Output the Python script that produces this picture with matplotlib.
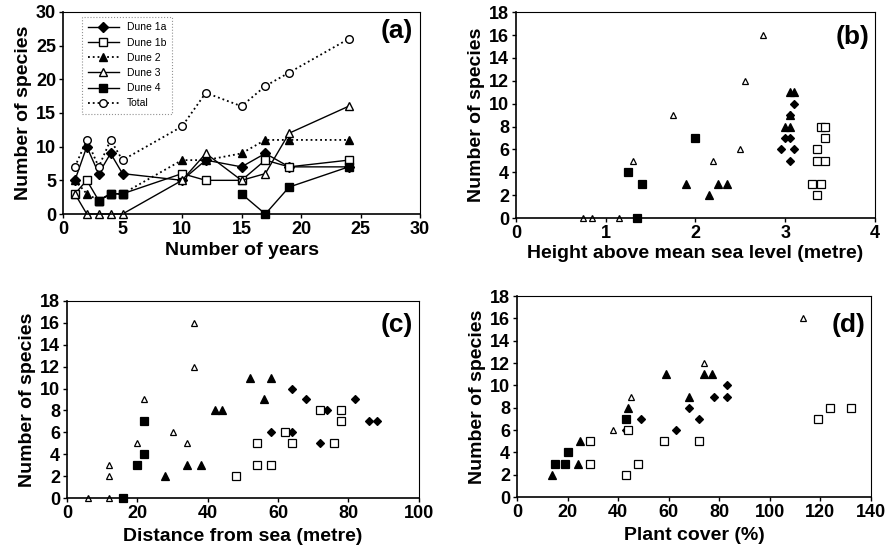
import matplotlib.pyplot as plt
import numpy as np

plt.rcParams['font.family'] = ['Liberation Sans', 'DejaVu Sans']
plt.rcParams['font.weight'] = 'bold'

# (a) species vs years
years = [1, 2, 3, 4, 5, 10, 12, 15, 17, 19, 24]
nan = np.nan
dune1a = [5, 10, 6, 9, 6, 5, 8, 7, 9, 7, 7]
dune1b = [3, 5, 2, 3, 3, 6, 5, 5, 8, 7, 8]
dune2 = [5, 3, 2, 3, 3, 8, 8, 9, 11, 11, 11]
dune3 = [3, 0, 0, 0, 0, 5, 9, 5, 6, 12, 16]
dune4 = [nan, nan, 2, 3, 3, nan, nan, 3, 0, 4, 7]
total = [7, 11, 7, 11, 8, 13, 18, 16, 19, 21, 26]

# (b) height above sea level
h_d1a = [2.95, 3.0, 3.05, 3.05, 3.1, 3.1, 3.05]
n_h_d1a = [6, 7, 7, 9, 10, 6, 5]
h_d1b = [3.3, 3.35, 3.4, 3.35, 3.35, 3.45, 3.45, 3.4, 3.45]
n_h_d1b = [3, 2, 3, 5, 6, 5, 7, 8, 8]
h_d2 = [1.9, 2.15, 2.25, 2.35, 3.0, 3.05, 3.05, 3.1, 3.05]
n_h_d2 = [3, 2, 3, 3, 8, 8, 11, 11, 9]
h_d3 = [0.75, 0.85, 1.15, 1.3, 1.75, 2.2, 2.5, 2.55, 2.75]
n_h_d3 = [0, 0, 0, 5, 9, 5, 6, 12, 16]
h_d4 = [1.25, 1.4, 1.35, 2.0]
n_h_d4 = [4, 3, 0, 7]

# (c) distance from sea
d_d1a = [58, 64, 64, 68, 72, 74, 82, 86, 88]
n_d_d1a = [6, 6, 10, 9, 5, 8, 9, 7, 7]
d_d1b = [48, 54, 54, 58, 62, 64, 72, 76, 78, 78]
n_d_d1b = [2, 3, 5, 3, 6, 5, 8, 5, 8, 7]
d_d2 = [28, 34, 38, 42, 44, 52, 56, 58]
n_d_d2 = [2, 3, 3, 8, 8, 11, 9, 11]
d_d3 = [6, 12, 12, 12, 20, 22, 30, 34, 36, 36]
n_d_d3 = [0, 0, 2, 3, 5, 9, 6, 5, 12, 16]
d_d4 = [16, 20, 22, 22]
n_d_d4 = [0, 3, 4, 7]

# (d) plant cover
c_d1a = [43, 49, 63, 68, 72, 78, 83, 83]
n_c_d1a = [6, 7, 6, 8, 7, 9, 10, 9]
c_d1b = [29, 29, 43, 44, 48, 58, 72, 119, 124, 132]
n_c_d1b = [3, 5, 2, 6, 3, 5, 5, 7, 8, 8]
c_d2 = [14, 24, 25, 44, 59, 68, 74, 77]
n_c_d2 = [2, 3, 5, 8, 11, 9, 11, 11]
c_d3 = [29, 38, 45, 74, 113]
n_c_d3 = [5, 6, 9, 12, 16]
c_d4 = [15, 19, 20, 43]
n_c_d4 = [3, 3, 4, 7]

fig = plt.figure(figsize=(8.86, 5.52), dpi=100)
ax_a = fig.add_axes([0.0711, 0.6123, 0.403, 0.366])
ax_b = fig.add_axes([0.5824, 0.605, 0.405, 0.373])
ax_c = fig.add_axes([0.0756, 0.0978, 0.397, 0.357])
ax_d = fig.add_axes([0.5835, 0.0996, 0.3995, 0.364])

ms = 5.5
ax_a.plot(years, dune1a, '-', color='black', lw=1, marker='D', ms=4.8, mfc='black', label='Dune 1a')
ax_a.plot(years, dune1b, '-', color='black', lw=1, marker='s', ms=ms, mfc='white', label='Dune 1b')
ax_a.plot(years, dune2, ':', color='black', lw=1.3, marker='^', ms=ms, mfc='black', label='Dune 2')
ax_a.plot(years, dune3, '-', color='black', lw=1, marker='^', ms=ms, mfc='white', label='Dune 3')
ax_a.plot(years, dune4, '-', color='black', lw=1, marker='s', ms=ms, mfc='black', label='Dune 4')
ax_a.plot(years, total, ':', color='black', lw=1.3, marker='o', ms=ms, mfc='white', label='Total')
ax_a.set_xlim(0, 30)
ax_a.set_ylim(0, 30)
ax_a.set_xticks(range(0, 31, 5))
ax_a.set_yticks(range(0, 31, 5))
ax_a.set_xlabel('Number of years', fontsize=14, fontweight='bold', labelpad=3)
ax_a.set_ylabel('Number of species', fontsize=14, fontweight='bold', labelpad=3)
leg = ax_a.legend(loc='upper left', bbox_to_anchor=(0.04, 1.0), frameon=True,
                  fancybox=False, handlelength=3, labelspacing=0.5, borderpad=0.5,
                  prop={'weight': 'normal', 'size': 7.5})
leg.get_frame().set_edgecolor('#777777')
leg.get_frame().set_linestyle(':')
leg.get_frame().set_linewidth(0.8)

def scatter_panel(ax, groups):
    for x, y, m, fc, s in groups:
        ax.plot(x, y, linestyle='none', marker=m, ms=s, mfc=fc, mec='black', mew=0.9)

scatter_panel(ax_b, [(h_d3, n_h_d3, '^', 'white', 4.5), (h_d4, n_h_d4, 's', 'black', 5.5),
                     (h_d2, n_h_d2, '^', 'black', 5.5), (h_d1a, n_h_d1a, 'D', 'black', 4.5),
                     (h_d1b, n_h_d1b, 's', 'white', 5.5)])
ax_b.set_xlim(0, 4)
ax_b.set_ylim(0, 18)
ax_b.set_xticks(range(0, 5))
ax_b.set_yticks(range(0, 19, 2))
ax_b.set_xlabel('Height above mean sea level (metre)', fontsize=14, fontweight='bold', labelpad=2)
ax_b.set_ylabel('Number of species', fontsize=14, fontweight='bold', labelpad=3)

scatter_panel(ax_c, [(d_d3, n_d_d3, '^', 'white', 4.5), (d_d4, n_d_d4, 's', 'black', 5.5),
                     (d_d2, n_d_d2, '^', 'black', 5.5), (d_d1a, n_d_d1a, 'D', 'black', 4.5),
                     (d_d1b, n_d_d1b, 's', 'white', 5.5)])
ax_c.set_xlim(0, 100)
ax_c.set_ylim(0, 18)
ax_c.set_xticks(range(0, 101, 20))
ax_c.set_yticks(range(0, 19, 2))
ax_c.set_xlabel('Distance from sea (metre)', fontsize=14, fontweight='bold', labelpad=4)
ax_c.set_ylabel('Number of species', fontsize=14, fontweight='bold', labelpad=3)

scatter_panel(ax_d, [(c_d3, n_c_d3, '^', 'white', 4.5), (c_d4, n_c_d4, 's', 'black', 5.5),
                     (c_d2, n_c_d2, '^', 'black', 5.5), (c_d1a, n_c_d1a, 'D', 'black', 4.5),
                     (c_d1b, n_c_d1b, 's', 'white', 5.5)])
ax_d.set_xlim(0, 140)
ax_d.set_ylim(0, 18)
ax_d.set_xticks(range(0, 141, 20))
ax_d.set_yticks(range(0, 19, 2))
ax_d.set_xlabel('Plant cover (%)', fontsize=14, fontweight='bold', labelpad=4)
ax_d.set_ylabel('Number of species', fontsize=14, fontweight='bold', labelpad=3)

label_pos = {'(a)': (0.98, 0.965), '(b)': (0.986, 0.937), '(c)': (0.983, 0.94), '(d)': (0.986, 0.915)}
for ax, lab in [(ax_a, '(a)'), (ax_b, '(b)'), (ax_c, '(c)'), (ax_d, '(d)')]:
    px, py = label_pos[lab]
    ax.text(px, py, lab, transform=ax.transAxes, ha='right', va='top',
            fontsize=19, fontweight='bold')
    ax.tick_params(labelsize=13, width=1, length=3, direction='out', pad=2)
    for t in ax.get_xticklabels() + ax.get_yticklabels():
        t.set_fontweight('bold')
    for sp in ax.spines.values():
        sp.set_linewidth(0.8)
    ax.spines['left'].set_linewidth(1.2)
    ax.spines['bottom'].set_linewidth(1.2)
    for m in ax.lines:
        m.set_clip_on(False)

fig.savefig('out.png', dpi=100)
